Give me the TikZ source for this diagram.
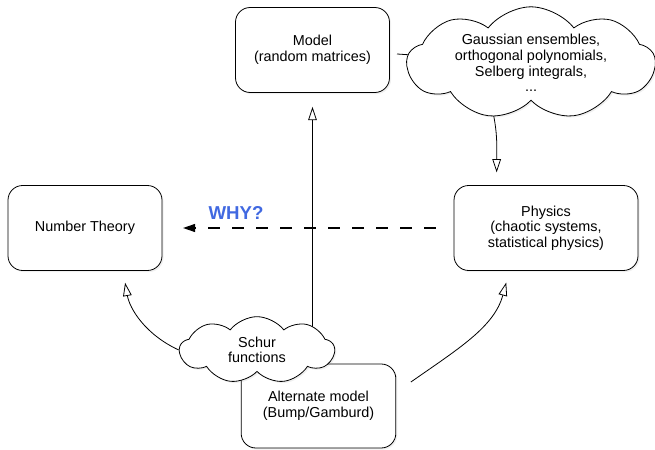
\documentclass[tikz,border=0pt]{standalone}
\usepackage{fontspec}
\setmainfont{Liberation Sans}
\usetikzlibrary{shapes.symbols}
\usetikzlibrary{arrows.meta,shadows,backgrounds}
\definecolor{whyblue}{RGB}{65,105,225}

\begin{document}
\begin{tikzpicture}[x=0.75pt,y=0.75pt,
  font=\fontsize{10.8}{11.7}\selectfont,
  box/.style={draw,fill=white,rounded corners=11pt,align=center,line width=0.6pt,
    drop shadow={opacity=0.12,shadow xshift=1.2pt,shadow yshift=-1.2pt}},
  puff/.style={draw,fill=white,cloud,cloud puffs=9,cloud puff arc=105,
    cloud ignores aspect,align=center,inner sep=0pt,line width=0.6pt,
    drop shadow={opacity=0.12,shadow xshift=1.2pt,shadow yshift=-1.2pt}},
  hollow/.style={-{Triangle[open,length=10pt,width=6.5pt]},line width=0.6pt},
  why/.style={-{Triangle[length=9pt,width=6pt]},dash pattern=on 8.5pt off 9.5pt,line width=0.8pt}]
\useasboundingbox (0,0) rectangle (655,449);
\node[box,minimum width=115.5pt,minimum height=63.75pt] (model) at (312.5,399) {Model\\(random matrices)};
\node[box,minimum width=115.5pt,minimum height=63.75pt] (nt) at (85,221) {Number Theory};
\node[box,minimum width=138pt,minimum height=63.75pt] (phys) at (546,221) {Physics\\(chaotic systems,\\statistical physics)};
\node[box,minimum width=116pt,minimum height=63pt] (alt) at (318.5,43) {Alternate model\\(Bump/Gamburd)};
\node[puff,minimum width=186pt,minimum height=64pt] (gauss) at (531,386) {Gaussian ensembles,\\orthogonal polynomials,\\Selberg integrals,\\...};
\node[puff,minimum width=116pt,minimum height=50pt] (schur) at (257,99) {Schur\\functions};
\coordinate (tail) at (397,395);
\node[text=whyblue,font=\bfseries\fontsize{14}{16}\selectfont] (whylbl) at (236,236) {WHY?};
\begin{scope}[on background layer]
\draw[line width=0.6pt] (tail) -- (gauss.center);
\draw[hollow,shorten >=10.5pt] (model.south |- schur.center) -- (model.south);
\draw[hollow,shorten >=9.5pt] ([xshift=-34pt,yshift=10pt]gauss.south) to[out=-70,in=90] ([xshift=-37pt]phys.north);
\draw[why,shorten <=13.5pt,shorten >=15.5pt] (phys.west) -- (nt.east);
\draw[hollow,shorten >=9pt] (schur.west) to[out=155,in=-80] ([xshift=28.5pt]nt.south);
\draw[hollow,shorten >=9pt] ([xshift=11pt,yshift=18pt]alt.east) to[out=35,in=-105] ([xshift=-27.5pt]phys.south);
\end{scope}
\end{tikzpicture}
\end{document}
